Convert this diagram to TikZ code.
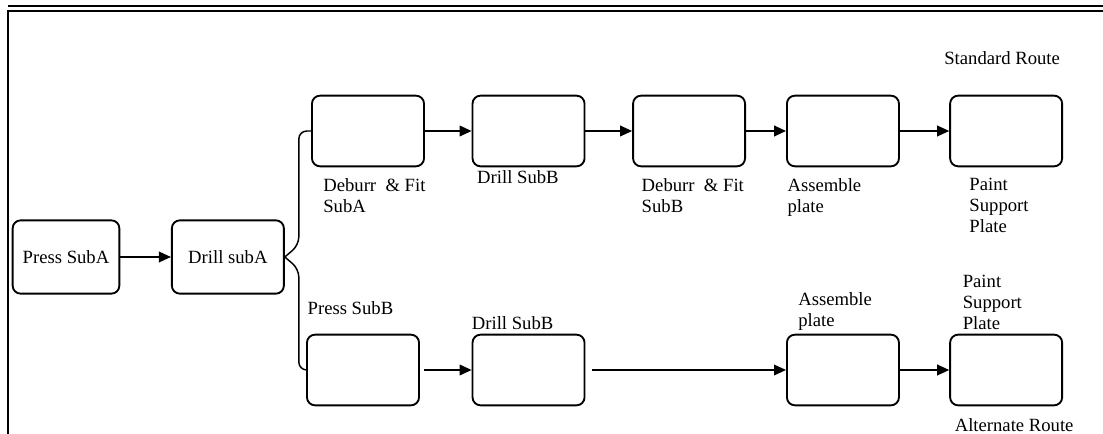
\documentclass[tikz,border=0pt]{standalone}
\usepackage{fontspec}
\setmainfont{Liberation Serif}
\usetikzlibrary{arrows.meta,positioning,calc}
\tikzset{
  stepbox/.style={rectangle, rounded corners=6pt, draw=black, line width=1.4pt, minimum width=84pt, minimum height=53pt, inner sep=0pt, font=\fontsize{14}{15.75}\selectfont},
  steplabel/.style={align=left, inner sep=0pt, font=\fontsize{14}{15.75}\selectfont},
  routelabel/.style={inner sep=0pt, font=\fontsize{14}{15.75}\selectfont},
  arrow/.style={-{Triangle[length=9pt,width=8pt]}, line width=1.1pt},
  link/.style={line width=1.1pt, rounded corners=6pt},
  frame/.style={line width=1.5pt}
}

\begin{document}
\begin{tikzpicture}[x=0.75pt, y=-0.75pt, node distance=35pt]
  \useasboundingbox[fill=white] (0,0) rectangle (1103,434);
  \draw[frame] (8,434) -- (8,11) -- (1103,11);
  \draw[line width=0.8pt] (8,6) -- (1103,6);

  % common start
  \node[stepbox, minimum width=80pt, minimum height=55pt] (psa) at (66,257) {Press SubA};
  \node[stepbox, minimum height=55pt, right=38pt of psa] (dsa) {Drill subA};

  % standard route
  \node[stepbox] (dfa) at (368,131) {};
  \node[stepbox, right=of dfa] (dsbt) {};
  \node[stepbox, right=of dsbt] (dfb) {};
  \node[stepbox, right=30pt of dfb] (aspt) {};
  \node[stepbox, right=37pt of aspt] (pntt) {};

  \node[steplabel, below right=8pt and 9pt of dfa.south west] (dfalbl) {Deburr \ \& Fit\\SubA};
  \node[steplabel, below right=2pt and 4pt of dsbt.south west] (dsbtlbl) {Drill SubB};
  \node[steplabel, below right=8pt and 7pt of dfb.south west] (dfblbl) {Deburr \ \& Fit\\SubB};
  \node[steplabel, below right=8pt and 1pt of aspt.south west] (aspttlbl) {Assemble\\plate};
  \node[steplabel, below right=8pt and 15pt of pntt.south west] (pnttlbl) {Paint\\Support\\Plate};
  \node[routelabel, above=22pt of pntt, xshift=-3pt] (stdroute) {Standard Route};

  % alternate route
  \node[stepbox] (psb) at (363,370) {};
  \node[stepbox] (dsbb) at (dsbt |- psb) {};
  \node[stepbox] (aspb) at (aspt |- psb) {};
  \node[stepbox] (pntb) at (pntt |- psb) {};

  \node[steplabel, above right=14pt and 1pt of psb.north west] (psblbl) {Press SubB};
  \node[steplabel, above right=3pt and 0pt of dsbb.north west] (dsbblbl) {Drill SubB};
  \node[steplabel, above right=2pt and 9pt of aspb.north west] (aspblbl) {Assemble\\plate};
  \node[steplabel, above right=3pt and 10pt of pntb.north west] (pntblbl) {Paint\\Support\\Plate};
  \node[routelabel, below=9pt of pntb, xshift=6pt] (altroute) {Alternate Route};

  \coordinate (upfork) at ($(dsa.east)+(14,-12)$);
  \coordinate (downfork) at ($(dsa.east)+(14,12)$);

  \draw[arrow] (psa) -- (dsa);
  \draw[link] (dsa.east) -- (upfork) |- (dfa.west);
  \draw[link] (dsa.east) -- (downfork) |- (psb.west);

  \draw[arrow] (dfa) -- (dsbt);
  \draw[arrow] (dsbt) -- (dfb);
  \draw[arrow, line width=1.5pt] (dfb) -- (aspt);
  \draw[arrow] (aspt) -- (pntt);

  \draw[arrow, shorten <=3pt] (psb) -- (dsbb);
  \draw[arrow, shorten <=5pt] (dsbb) -- (aspb);
  \draw[arrow] (aspb) -- (pntb);
\end{tikzpicture}
\end{document}
